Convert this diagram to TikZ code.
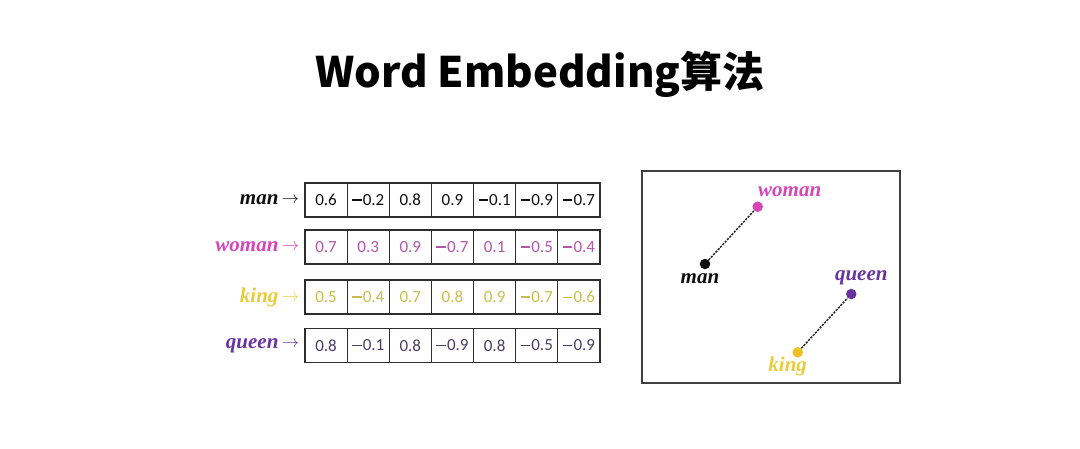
\documentclass[tikz,border=0pt]{standalone}
\usepackage{fontspec}
\setmainfont{Liberation Serif}
\newfontfamily\numfont{Carlito}
\newfontfamily\cjk{Noto Sans CJK SC}
\usetikzlibrary{positioning, calc}
\definecolor{manblack}{RGB}{15, 15, 15}
\definecolor{womanpink}{RGB}{214, 70, 182}
\definecolor{womanrow}{RGB}{178, 88, 168}
\definecolor{kinggold}{RGB}{240, 192, 32}
\definecolor{kinglabel}{RGB}{232, 204, 64}
\definecolor{kingrow}{RGB}{200, 190, 80}
\definecolor{queenpurple}{RGB}{104, 52, 160}
\definecolor{queenrow}{RGB}{72, 62, 100}
\newcommand{\mn}{\rule[0.29em]{0.56em}{0.065em}\kern0.07em}
\newcommand{\smallto}{\raisebox{1pt}{\fontsize{16}{17}\selectfont$\rightarrow$}}

\begin{document}
\begin{tikzpicture}[x=1pt, y=-1pt,
  cell/.style={draw=black!82, line width=1.2pt, minimum width=42.1pt, minimum height=34pt, inner sep=0pt, font=\numfont\fontsize{17}{19}\selectfont},
  word/.style={font=\fontsize{21}{24}\selectfont\bfseries\itshape, inner sep=0pt},
  dot/.style={circle, inner sep=0pt, minimum size=10.5pt},
  link/.style={draw=black!85, line width=1.5pt, dash pattern=on 2.2pt off 1.2pt}]
  \useasboundingbox (0,0) rectangle (1080,448);

  % title
  \node[font=\cjk\bfseries\fontsize{42}{46}\selectfont, anchor=base] (title) at (540,87.5) {Word Embedding算法};

  % word vectors
  \foreach \word/\ypos/\lblcol/\txtcol/\vals in {
      man/200/manblack/manblack/{0.6,\mn0.2,0.8,0.9,\mn0.1,\mn0.9,\mn0.7},
      woman/247/womanpink/womanrow/{0.7,0.3,0.9,\mn0.7,0.1,\mn0.5,\mn0.4},
      king/297/kinglabel/kingrow/{0.5,\mn0.4,0.7,0.8,0.9,\mn0.7,\mn0.6},
      queen/345.5/queenpurple/queenrow/{0.8,\mn0.1,0.8,\mn0.9,0.8,\mn0.5,\mn0.9}} {
    \foreach \v [count=\i] in \vals {
      \node[cell, text=\txtcol] (\word-\i) at ({305+42.14*(\i-0.5)},\ypos) {\v};
    }
    \node[word, text=\lblcol, anchor=east] (\word-lbl) at ([xshift=-5pt]\word-1.west) {\word\,\smallto};
  }

  % embedding plane
  \node[draw=black!75, line width=1.3pt, minimum width=258pt, minimum height=212pt] (plane) at (771,277) {};
  \node[dot, fill=manblack] (man-pt) at (705,264) {};
  \node[dot, fill=womanpink] (woman-pt) at (757.7,206.7) {};
  \node[dot, fill=queenpurple] (queen-pt) at (851.3,294) {};
  \node[dot, fill=kinggold] (king-pt) at (797.7,352.3) {};
  \node[word, text=manblack, anchor=base] (man-txt) at ([shift={(-5,19)}]man-pt) {man};
  \node[word, text=womanpink, anchor=base] (woman-txt) at ([shift={(32,-10)}]woman-pt) {woman};
  \node[word, text=queenpurple, anchor=base] (queen-txt) at ([shift={(10,-13.3)}]queen-pt) {queen};
  \node[word, text=kinglabel, anchor=base] (king-txt) at ([shift={(-10,19.4)}]king-pt) {king};
  \draw[link] (man-pt) -- (woman-pt);
  \draw[link] (king-pt) -- (queen-pt);
\end{tikzpicture}
\end{document}
